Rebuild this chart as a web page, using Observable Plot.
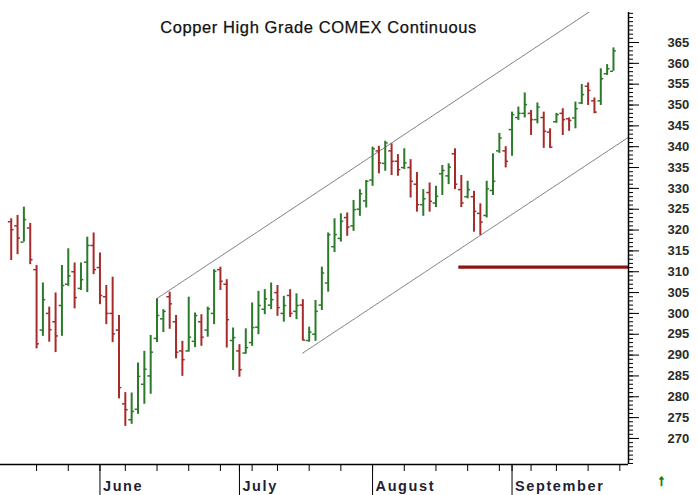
<!DOCTYPE html>
<html><head><meta charset="utf-8">
<script src="https://cdn.jsdelivr.net/npm/d3@7"></script>
<script src="https://cdn.jsdelivr.net/npm/@observablehq/plot@0.6"></script>
<style>
html,body{margin:0;padding:0;background:#fff;}
#chart{width:698px;height:495px;overflow:hidden;}
</style></head><body><div id="chart"></div>
<script>
// Daily OHLC, Copper High Grade COMEX Continuous (May 11 – Sep 24), index = trading day
const opens  = [322,321,317.1,320.5,310.5,296,300,298,301.9,307,310,306,312.3,316.3,311,304,300,296,278.3,274.5,277,283,285,294,298.7,304,298,291,291,293.3,298,296,300,310.5,307,293.5,291,290.5,293,296.7,301,302,305,300,304.3,300.5,302,293.5,295,302,307.3,316,318,323,321,325,327,332,339,336,339,336.5,335,335,331,326.1,329,326.5,333.5,333,338.3,329.7,328,328,324,323.5,329.5,339,339,344.1,347,348,348,346.5,347,343.5,346,348,346.7,346.9,350.5,354.5,351,351,357.5,358.1];
const highs  = [322.7,323.5,325.5,321.6,311.5,307.3,301.5,304.9,311.5,315.5,312.1,312.1,318.3,319.3,314.5,306.7,308.7,299.5,281,280.9,288.1,290.9,294.7,303.5,300.9,305.1,299.5,293.3,303.9,300.1,299.7,301.5,310.5,311.1,308.1,296.5,292.5,296.3,302.5,305.3,305.7,307.3,306.7,304.1,305.7,304.7,303.3,296.7,303.1,311.1,319.3,322.7,323.9,324.1,327.1,329.7,331.9,339.9,340.1,341.3,340.7,338.1,339.5,336.9,333.8,329.7,331.3,330.5,335.5,335.9,339.5,333.1,331.7,329.3,326.3,331.7,338.3,343.2,340,348.3,349.5,352.9,348.7,350.5,348.3,344.3,348,349.1,346.9,350.7,354.9,355.3,351.7,358.7,359.7,363.7];
const lows   = [312.7,314.1,317.1,311.7,291.5,294.5,293.1,290.6,294.5,306.5,301.1,305.5,305,309.3,302.1,297.3,293,279.5,272.9,273.4,275.8,278.2,280.6,293,295.4,296.2,289.1,284.9,290.7,291.8,292.1,294.3,297.3,305.5,291.7,286.3,284.7,290.2,292.1,294.9,299.7,300.9,299.3,297.9,299,298.5,293.5,293.1,293.3,300.7,305.1,314.6,317.1,318.5,319.7,323.3,325.3,330.5,333.5,334.1,333.1,332.9,334.5,327.7,324.3,323.3,324.3,325.4,328.3,330.9,329.7,325.4,327.5,319.5,318.7,322.9,328.3,338.4,334.9,337.7,346.3,346.9,342.7,345.5,339.6,339.6,345.6,342.7,343.7,344.3,350.1,349.9,347.9,349.9,357.1,358.1];
const closes = [320.1,318.1,322.5,312.9,292.7,303.3,296.1,294.6,306.7,309,303.8,308.1,316.3,310.5,304.3,300,295.1,282.2,276.9,276.5,284.9,286.6,290.7,299.5,300.5,302.3,290.7,288.9,294.3,299.5,294.3,301.1,310.1,307.7,298.5,294.2,286.5,291.8,296.6,301.9,303.5,303.3,301.4,301.9,300,301.9,293.6,295.5,300.5,309.7,318.9,318.9,322.1,320.7,324.9,328.7,331.7,339.5,336.1,340.9,336.5,334.5,336.1,331.7,326.1,327.5,326.9,328.1,334.3,335.1,331,326.5,329.7,324.5,321.9,329.9,331.7,342.1,336.5,347.7,348,350.1,346.5,349.5,343.7,339.9,347.7,346.5,346.3,349.1,352.5,353.5,348.3,356.3,358.7,363];

// Calendar: first trading day of each month and of each week (bar index)
const monthStarts = [14, 36, 57, 79];
const monthNames  = ["June", "July", "August", "September"];
const weekStarts  = [4, 9, 14, 18, 23, 28, 33, 36, 38, 42, 47, 52, 57, 62, 67, 72, 77, 79, 82, 86, 91, 96];

// Price axis ticks
const majorTicks = d3.range(270, 366, 5);
const minorTicks = d3.range(264, 373, 1);

// Trend channel (bar index, price) and support level
const upperChannelX = [23, 97.4];
const upperChannelY = [303.6, 378.6];
const lowerChannelX = [46, 97.4];
const lowerChannelY = [290.5, 342.3];
const supportLevel  = [311.1];
const supportFrom   = 70.6;

const title = "Copper High Grade COMEX Continuous";

const xDomain = [-1.69, 97.37];
const yDomain = [263.75, 372.2];
const RED = "#a62b2b", GREEN = "#2a7a2a";

const bars = opens.map((o, i) => ({i, open: o, high: highs[i], low: lows[i], close: closes[i]}));
const colorOf = d => d.close >= d.open ? GREEN : RED;
const upper = upperChannelX.map((x, k) => ({x, y: upperChannelY[k]}));
const lower = lowerChannelX.map((x, k) => ({x, y: lowerChannelY[k]}));

const chart = Plot.plot({
  width: 698, height: 495,
  marginLeft: 0, marginRight: 70, marginTop: 12, marginBottom: 31,
  style: {fontFamily: "'Liberation Sans', Arial, sans-serif", background: "#fff", overflow: "visible"},
  x: {domain: xDomain, axis: null},
  y: {domain: yDomain, axis: null},
  color: {type: "identity"},
  marks: [
    Plot.line(upper, {x: "x", y: "y", stroke: "#7a7a7a", strokeWidth: 1, strokeDasharray: "1.6,0.8", clip: true}),
    Plot.line(lower, {x: "x", y: "y", stroke: "#7a7a7a", strokeWidth: 1, strokeDasharray: "1.6,0.8", clip: true}),
    Plot.ruleY(supportLevel, {y: d => d, x1: supportFrom, x2: xDomain[1], stroke: "#8e1414", strokeWidth: 3.2}),
    Plot.ruleX(bars, {x: "i", y1: "low", y2: "high", stroke: colorOf, strokeWidth: 2}),
    Plot.ruleY(bars, {y: "open", x1: d => d.i - 0.45, x2: "i", stroke: colorOf, strokeWidth: 1.5}),
    Plot.ruleY(bars, {y: "close", x1: "i", x2: d => d.i + 0.45, stroke: colorOf, strokeWidth: 1.5}),
    // axes
    Plot.ruleX([xDomain[1]], {stroke: "#000", strokeWidth: 1.5}),
    Plot.ruleY([yDomain[0]], {stroke: "#000", strokeWidth: 1.5}),
    Plot.axisY(minorTicks, {anchor: "right", tickSize: 4, tickFormat: () => "", label: null, stroke: "#000"}),
    Plot.axisY(majorTicks, {anchor: "right", tickSize: 10, tickFormat: () => "", label: null, stroke: "#000"}),
    Plot.text(majorTicks, {x: xDomain[1], y: d => d, text: d => String(d), dx: 39, textAnchor: "start", fontSize: 13, fontWeight: "bold", fill: "#2a2a2a"}),
    Plot.axisX(weekStarts, {anchor: "bottom", tickSize: 7, tickFormat: () => "", label: null, stroke: "#000"}),
    Plot.axisX(monthStarts, {anchor: "bottom", tickSize: 31, tickFormat: () => "", label: null, stroke: "#000"}),
    Plot.text(monthStarts, {x: d => d, text: (d, k) => monthNames[k], frameAnchor: "bottom", lineAnchor: "middle", dy: 22, dx: 3, textAnchor: "start", fontSize: 14.5, fontWeight: "bold", fill: "#1f1f33"}),
    Plot.text([title], {frameAnchor: "top", lineAnchor: "middle", textAnchor: "middle", dy: 15, dx: 4, fontSize: 16.5, fill: "#111", stroke: "#111", strokeWidth: 0.25}),
    Plot.text(["↑"], {frameAnchor: "bottom-right", lineAnchor: "middle", textAnchor: "middle", dx: 33, dy: 16, fontSize: 15, fontWeight: "bold", fill: "#1b7a1b", stroke: "#1b7a1b", strokeWidth: 1})
  ]
});
// letter spacing to match the reference's wide lettering
d3.select(chart).selectAll("text").each(function() {
  const t = this.textContent;
  if (monthNames.includes(t)) this.style.letterSpacing = "1.6px";
  else if (t === title) this.style.letterSpacing = "0.6px";
});
document.getElementById("chart").appendChild(chart);
</script></body></html>
